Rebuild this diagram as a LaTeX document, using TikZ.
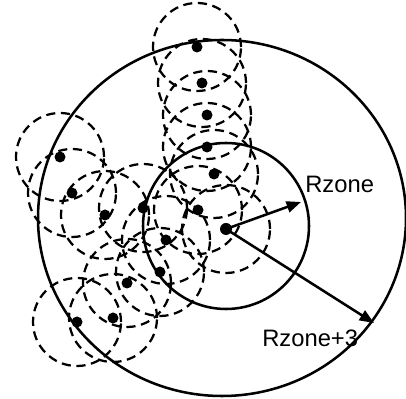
\documentclass[tikz,border=0pt]{standalone}
\usepackage{tikz}
\usetikzlibrary{arrows.meta}
\usepackage{fontspec}
\setmainfont{Liberation Sans}

\begin{document}
\begin{tikzpicture}[x=0.025cm,y=0.025cm,>={Triangle[length=0.36cm,width=0.28cm]},
  font=\fontsize{16.9}{20}\selectfont,
  cellring/.style={dash pattern=on 6.5pt off 4pt,line width=1.6pt},
  zonering/.style={line width=1.8pt},
  station/.style={fill=black}]
\useasboundingbox (0,0) rectangle (406,399);
% coverage of every node
\foreach \x/\y in {197/352,202/316,207/284,207/252,214/225,198/189,143/191,105/184,
  72/206,60/242,166/159,160/127,127/116,113/81,77/77,226/170}
  \draw[cellring] (\x,\y) circle (44);
% zone and extended zone
\draw[zonering] (226,173) circle (83);
\draw[zonering] (222,181) ellipse [x radius=184,y radius=178];
\foreach \x/\y in {197/352,202/316,207/284,207/252,214/225,198/189,143/191,105/184,
  72/206,60/242,166/159,160/127,127/116,113/81,77/77}
  \fill[station] (\x,\y) circle (5.5);
\coordinate (c) at (226,170);
\fill[station] (c) circle (6);
\coordinate (rz) at (301,197);
\coordinate (rz3) at (374,76);
\draw[->,zonering] (c) -- (rz);
\draw[->,zonering] (c) -- (rz3);
\node[anchor=base west,inner sep=0pt] (lzone) at (305,206) {Rzone};
\node[anchor=base west,inner sep=0pt] (lzone3) at (262,52) {Rzone+3};
\end{tikzpicture}
\end{document}
